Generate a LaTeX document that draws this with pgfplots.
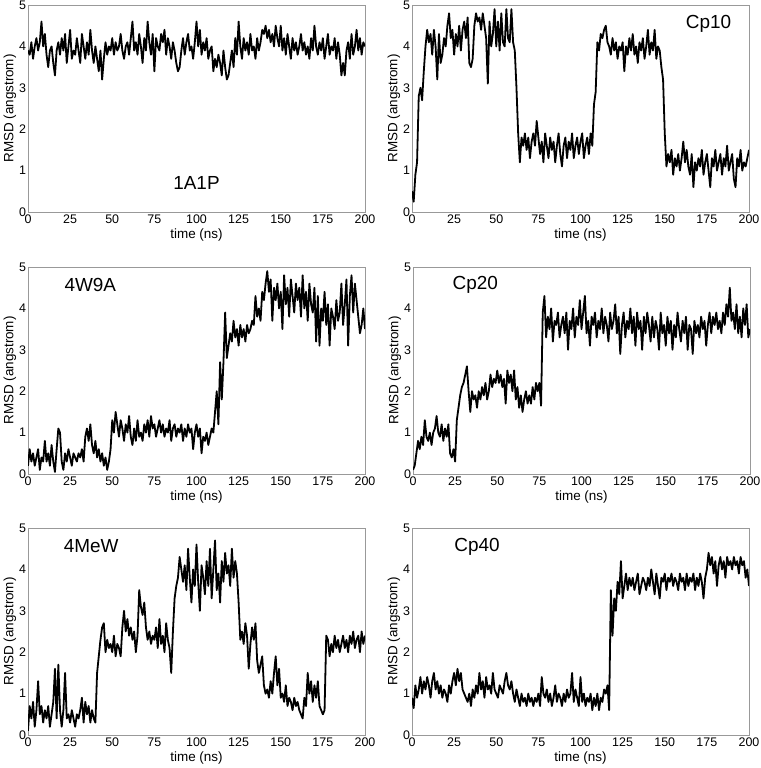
\documentclass[border=0pt]{standalone}
\usepackage{fontspec}
\setmainfont{Liberation Sans}
\usepackage{pgfplots}
\pgfplotsset{compat=1.18}
\usepackage{pgfplotstable}

% RMSD traces, one column per system, 1 ns steps
\pgfplotstableread{
t a b c d e f
0 3.9 0.5 0.2 0.1 0.1 0.9
1 3.8 0.25 0.6 0.2 0.7 0.65
2 4.1 0.9 0.3 0.5 0.4 1.2
3 3.7 1.2 0.5 0.8 0.8 0.9
4 4.0 2.8 0.2 0.6 0.2 1.1
5 4.2 3.0 0.4 0.9 0.6 1.4
6 3.9 2.7 0.6 0.7 1.3 1.0
7 4.1 3.4 0.1 1.3 0.5 1.3
8 4.6 4.0 0.4 0.9 0.7 1.1
9 4.0 4.4 0.3 0.8 0.3 1.4
10 4.3 4.1 0.8 1.0 0.6 1.2
11 3.8 4.3 0.3 0.7 0.4 0.9
12 3.5 3.8 0.5 1.0 0.7 1.3
13 3.9 4.4 0.2 1.1 0.2 1.5
14 4.0 4.0 0.7 1.4 0.5 1.1
15 3.6 3.2 0.3 1.0 0.8 1.3
16 3.3 4.3 0.05 0.9 1.6 1.0
17 3.9 3.6 0.6 1.2 0.4 1.2
18 4.1 3.8 1.1 0.8 1.7 0.9
19 3.8 4.2 1.0 1.1 0.6 1.1
20 4.2 4.0 0.3 0.9 0.2 1.0
21 3.9 4.5 0.1 1.2 0.6 0.8
22 4.3 4.8 0.5 0.5 1.5 1.2
23 3.6 4.2 0.3 0.4 0.4 1.0
24 4.0 4.4 0.6 0.6 0.5 1.3
25 4.4 3.8 0.4 0.3 0.3 1.5
26 3.7 4.3 0.2 1.3 0.6 1.2
27 3.9 4.0 0.5 1.6 0.4 1.6
28 3.8 4.5 0.4 1.9 0.2 1.3
29 4.2 3.9 0.3 2.1 0.5 1.5
30 3.9 4.4 0.5 2.2 0.4 1.1
31 3.6 4.6 0.4 2.4 0.6 1.0
32 4.3 4.2 0.6 2.6 0.9 0.9
33 4.0 4.7 0.3 2.0 0.3 0.8
34 3.7 3.6 0.9 1.5 0.8 1.0
35 4.1 3.5 1.1 2.0 0.5 0.7
36 3.8 3.7 0.8 1.8 0.7 1.1
37 4.4 4.5 1.2 1.9 0.3 0.9
38 3.9 4.8 0.7 1.6 0.6 1.2
39 3.6 4.6 0.5 2.0 0.4 1.0
40 4.0 4.7 0.8 1.8 0.3 1.5
41 3.7 4.4 0.4 2.1 1.5 1.1
42 3.4 4.8 0.6 1.9 1.9 1.3
43 3.9 4.5 0.3 2.2 2.3 0.9
44 3.2 4.2 0.5 1.8 2.6 1.4
45 3.7 3.1 0.2 2.0 2.7 1.1
46 4.1 4.6 0.4 2.4 2.0 1.2
47 3.8 4.0 0.1 2.1 2.3 1.0
48 4.0 4.3 0.3 2.3 2.1 1.5
49 3.9 4.9 0.6 2.2 2.2 1.1
50 4.2 4.0 1.3 2.5 2.0 1.0
51 3.8 4.6 1.0 2.2 2.4 0.9
52 4.1 3.9 1.5 2.4 1.9 1.2
53 3.9 4.8 1.2 2.1 2.2 1.1
54 4.0 4.1 0.9 2.3 2.1 1.0
55 4.3 4.0 1.3 1.7 1.9 1.3
56 3.9 4.9 1.1 2.5 2.6 1.5
57 3.7 4.2 0.8 2.2 3.0 1.2
58 4.0 4.1 1.2 2.4 2.5 1.1
59 4.1 4.9 1.0 2.0 2.8 1.3
60 3.8 4.1 1.4 2.5 2.4 1.0
61 4.2 3.9 0.9 1.8 2.6 0.8
62 4.6 3.0 0.7 2.1 2.3 1.1
63 3.9 1.9 1.1 1.6 2.5 0.9
64 4.1 1.2 0.8 1.9 2.0 0.7
65 3.8 1.8 1.3 1.5 2.4 1.0
66 4.3 1.6 0.9 1.8 3.5 0.8
67 4.0 1.9 1.0 2.0 3.1 0.9
68 3.6 1.5 0.8 1.7 2.9 0.7
69 4.2 1.8 1.2 1.9 3.2 1.0
70 3.9 1.3 1.0 1.7 2.6 0.8
71 4.6 1.7 1.3 2.1 2.3 0.9
72 4.1 1.9 0.9 1.8 2.5 0.7
73 3.8 1.6 1.4 2.2 2.2 0.9
74 4.3 2.2 1.1 2.0 2.4 0.8
75 3.4 1.8 1.2 2.2 2.3 1.0
76 4.2 1.4 0.9 1.65 2.6 0.7
77 4.0 1.7 1.1 3.9 2.1 1.4
78 3.9 1.2 1.3 4.3 2.8 1.0
79 4.3 1.9 1.0 3.3 2.2 0.9
80 4.1 1.6 1.2 3.8 2.4 1.1
81 4.4 1.3 0.9 3.5 2.0 0.8
82 3.8 1.8 1.1 4.0 2.7 1.0
83 4.2 1.5 1.0 3.2 2.3 0.7
84 4.0 1.7 1.3 3.7 2.1 0.9
85 3.7 1.2 0.8 3.6 1.5 1.2
86 4.1 1.6 1.1 3.9 2.5 0.8
87 3.9 1.9 1.2 3.3 3.3 1.0
88 3.6 1.4 0.9 3.6 3.6 0.9
89 3.4 1.1 1.1 3.8 3.8 0.7
90 3.5 1.6 1.0 3.4 4.3 1.0
91 3.9 1.8 1.2 3.9 4.0 0.8
92 4.2 1.3 0.8 3.0 3.7 1.1
93 3.8 1.7 1.1 3.7 4.1 0.9
94 4.1 1.5 0.9 3.5 3.5 1.0
95 4.3 1.9 1.2 4.0 4.5 1.5
96 3.9 1.3 1.0 3.3 3.8 0.8
97 4.0 1.6 1.1 3.8 3.2 1.1
98 3.7 1.8 0.6 3.6 4.0 0.9
99 4.1 1.4 1.0 4.2 3.6 0.7
100 4.6 1.7 1.2 3.5 4.6 1.4
101 4.0 1.9 0.9 3.9 3.7 0.8
102 4.4 1.3 1.1 4.3 3.0 1.0
103 3.8 1.6 0.5 3.4 4.1 0.7
104 4.1 1.8 0.9 3.7 3.8 0.9
105 3.9 1.4 0.8 3.1 3.4 0.8
106 4.2 1.9 1.0 3.8 4.2 1.0
107 3.7 1.6 0.7 3.6 3.6 0.6
108 3.9 2.6 0.9 3.9 4.5 0.9
109 4.0 2.9 1.1 3.3 3.3 0.7
110 3.4 4.1 1.0 3.7 4.0 1.0
111 3.7 3.9 1.5 3.5 4.7 0.6
112 3.5 4.3 2.0 4.0 3.5 0.9
113 3.8 4.2 1.2 3.4 3.9 0.8
114 3.6 4.4 2.7 3.8 3.2 1.1
115 3.3 4.5 1.8 3.6 4.2 1.0
116 3.9 4.1 2.7 3.2 3.7 1.2
117 3.5 4.0 3.9 3.9 4.4 0.6
118 3.2 3.8 2.8 3.5 3.9 3.5
119 3.3 4.2 3.1 3.7 4.1 2.4
120 3.6 3.9 3.4 4.1 3.6 3.3
121 3.9 4.1 3.2 3.4 4.5 3.0
122 3.5 3.7 3.7 3.8 3.8 3.7
123 4.2 4.0 3.3 2.9 4.2 3.4
124 3.8 3.9 3.5 3.6 3.9 4.2
125 4.6 4.1 3.1 3.9 3.2 3.3
126 4.0 3.4 3.6 3.3 2.3 3.6
127 3.7 4.0 3.3 3.7 2.5 3.9
128 4.2 3.8 3.5 3.5 2.2 3.5
129 3.9 4.2 3.2 4.0 2.7 3.8
130 4.1 3.9 3.6 3.4 2.4 3.6
131 3.8 4.3 3.4 3.8 1.6 3.8
132 4.3 3.8 3.5 3.1 2.2 3.5
133 3.9 4.0 3.7 3.9 2.6 3.7
134 4.0 3.6 3.6 3.5 2.3 3.9
135 3.7 4.1 4.3 3.7 2.7 3.4
136 4.2 3.9 3.8 3.0 1.8 3.6
137 3.9 4.2 4.0 3.8 1.5 3.8
138 4.1 3.7 3.7 3.4 1.7 3.7
139 4.4 4.0 4.4 3.9 1.9 3.5
140 4.3 4.4 4.2 3.6 1.2 3.8
141 4.5 3.8 4.6 3.2 1.0 3.6
142 4.2 4.1 4.9 3.8 1.1 4.0
143 4.4 3.9 4.4 3.3 0.9 3.7
144 4.1 4.4 4.7 3.7 1.3 3.4
145 4.3 3.7 3.7 3.5 1.0 3.9
146 4.0 4.0 4.5 3.0 1.5 3.6
147 4.5 3.9 4.2 3.9 1.9 3.3
148 4.2 3.5 4.6 3.4 1.2 3.8
149 4.0 3.2 4.0 3.6 1.6 3.7
150 4.5 1.9 4.4 3.1 0.9 3.9
151 3.9 1.1 3.5 3.8 1.0 3.5
152 4.2 1.4 4.8 3.4 0.8 3.8
153 3.8 1.2 4.1 3.7 1.2 3.7
154 4.3 1.5 4.5 3.0 0.7 3.9
155 4.0 0.9 3.8 3.6 0.9 3.6
156 3.7 1.3 4.7 3.3 0.8 3.8
157 4.2 1.1 4.3 3.9 0.6 3.7
158 3.9 1.4 3.9 3.5 0.9 3.5
159 4.1 1.0 4.6 3.2 0.7 3.9
160 3.8 1.3 4.2 3.7 0.8 3.7
161 4.0 1.7 4.5 3.4 0.6 3.8
162 4.3 1.2 3.8 3.8 0.5 3.5
163 3.9 1.5 4.8 3.0 0.4 3.9
164 4.1 1.1 4.0 3.6 0.9 3.6
165 3.8 0.9 4.4 3.5 0.7 3.8
166 4.0 1.4 3.7 2.9 1.5 3.7
167 3.7 0.6 4.6 3.7 1.0 3.9
168 4.2 1.2 4.1 3.4 1.3 3.5
169 3.9 1.0 3.9 3.6 0.8 3.8
170 4.5 1.3 4.5 3.3 1.2 3.6
171 4.0 1.1 3.2 3.8 0.9 3.9
172 3.8 1.5 4.3 3.5 1.3 3.7
173 4.1 0.9 3.1 3.7 0.7 3.3
174 3.9 1.2 4.0 3.1 0.6 3.8
175 4.2 1.4 3.7 3.6 0.5 4.0
176 3.7 1.0 4.4 3.9 0.6 4.4
177 4.0 0.6 3.6 3.4 2.4 4.1
178 4.3 1.3 4.1 3.8 2.3 4.3
179 3.8 1.1 3.1 3.6 1.9 3.9
180 4.0 1.5 4.0 3.9 2.2 4.2
181 3.9 1.0 3.8 3.5 2.0 3.6
182 4.2 1.2 3.5 3.7 2.4 4.1
183 3.7 1.4 4.2 3.4 2.1 4.3
184 4.1 0.9 3.7 3.9 2.3 4.0
185 3.8 1.3 3.9 3.6 2.0 4.2
186 3.3 1.1 4.6 4.1 2.2 3.8
187 3.6 1.6 3.6 3.8 2.4 4.3
188 3.3 1.0 4.1 4.5 2.1 4.1
189 3.9 1.2 4.7 3.7 2.3 4.2
190 4.1 1.4 3.1 3.9 2.0 4.0
191 3.7 0.8 4.3 3.5 2.4 4.3
192 4.3 0.6 4.8 4.1 2.2 4.1
193 3.8 1.3 3.9 3.4 2.5 4.2
194 4.0 1.1 4.6 3.8 2.1 3.9
195 4.4 1.5 4.2 3.3 2.3 4.3
196 3.9 1.0 3.8 4.0 2.4 4.1
197 4.2 1.2 3.4 3.6 2.0 4.2
198 3.8 1.1 3.6 4.1 2.5 3.8
199 4.1 1.3 4.0 3.3 2.2 4.0
200 4.0 1.5 3.5 3.5 2.4 3.6
}\rmsd

\pgfplotsset{
  rmsdpanel/.style={
    scale only axis,
    width=337bp, height=207bp,
    anchor=south west,
    xmin=0, xmax=200, ymin=0, ymax=5,
    xtick={0,25,...,200}, ytick={0,1,...,5},
    axis line style={draw=black!40},
    major tick length=0pt,
    /pgf/number format/assume math mode=true,
    ticklabel style={font=\fontsize{12.5}{14}\selectfont},
    xticklabel style={yshift=1bp},
    yticklabel style={xshift=1.5bp},
    xlabel={time (ns)}, ylabel={RMSD (angstrom)},
    every axis x label/.style={at={(axis description cs:0.5,0)}, yshift=-23bp, anchor=center, font=\fontsize{13.5}{15}\selectfont},
    every axis y label/.style={at={(axis description cs:0,0.5)}, xshift=-18bp, rotate=90, anchor=center, font=\fontsize{13.5}{15}\selectfont},
  },
  trace/.style={black, line width=1.8bp, line join=round, mark=none},
}
\tikzset{tag/.style={font=\fontsize{19}{22}\selectfont}}

\begin{document}
\begin{tikzpicture}
\useasboundingbox (0,0) rectangle (761bp,-768bp);

\begin{axis}[rmsdpanel, at={(28bp,-212bp)}]
  \addplot[trace] table[x=t, y=a] {\rmsd};
  \node[tag] at (axis cs:100,0.7) {1A1P};
\end{axis}

\begin{axis}[rmsdpanel, at={(412bp,-212bp)}]
  \addplot[trace] table[x=t, y=b] {\rmsd};
  \node[tag] at (axis cs:176,4.54) {Cp10};
\end{axis}

\begin{axis}[rmsdpanel, at={(28bp,-474bp)}]
  \addplot[trace] table[x=t, y=c] {\rmsd};
  \node[tag] at (axis cs:37,4.57) {4W9A};
\end{axis}

\begin{axis}[rmsdpanel, at={(413bp,-474bp)}]
  \addplot[trace] table[x=t, y=d] {\rmsd};
  \node[tag] at (axis cs:37,4.57) {Cp20};
\end{axis}

\begin{axis}[rmsdpanel, at={(28bp,-735bp)}]
  \addplot[trace] table[x=t, y=e] {\rmsd};
  \node[tag] at (axis cs:37.5,4.57) {4MeW};
\end{axis}

\begin{axis}[rmsdpanel, at={(412bp,-735bp)}]
  \addplot[trace] table[x=t, y=f] {\rmsd};
  \node[tag] at (axis cs:38.6,4.54) {Cp40};
\end{axis}
\end{tikzpicture}
\end{document}
